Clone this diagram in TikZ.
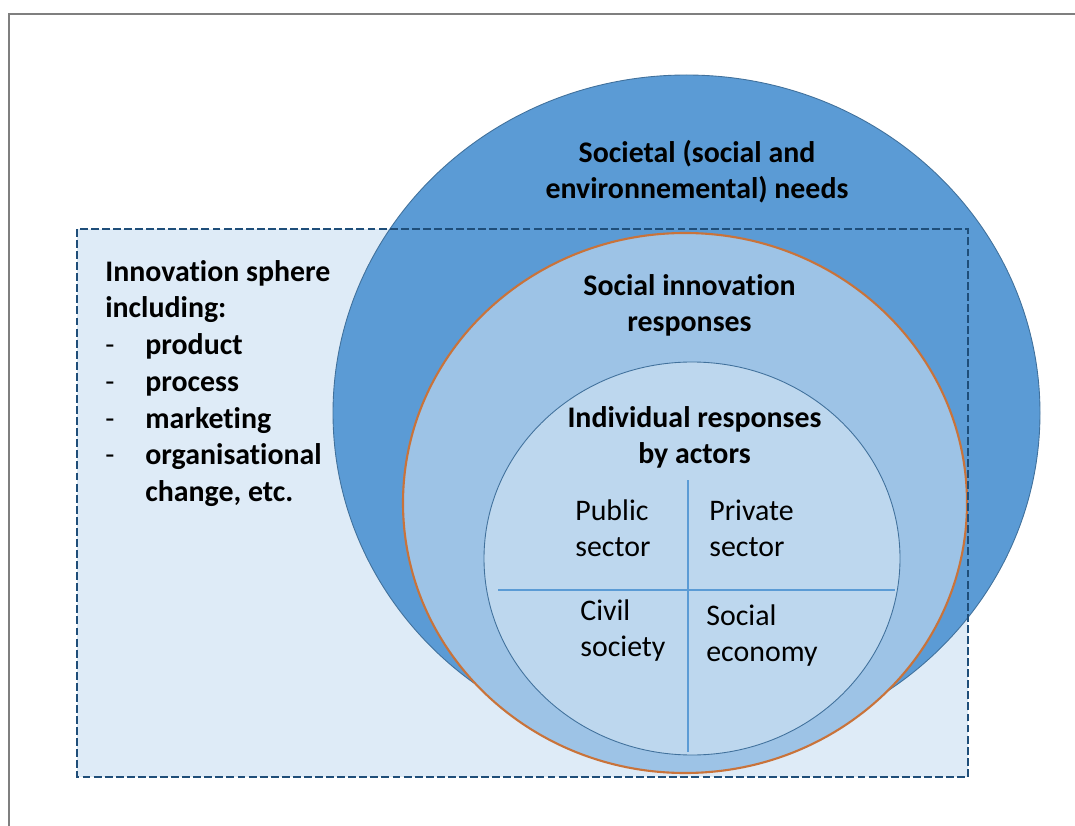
\documentclass[tikz,border=0pt]{standalone}
\usepackage{fontspec}
\setmainfont{Carlito}[Ligatures=NoCommon]
\usepackage{xcolor}

\definecolor{needsblue}{HTML}{5B9BD5}
\definecolor{respblue}{HTML}{9DC3E6}
\definecolor{actorblue}{HTML}{BDD7EE}
\definecolor{spherefill}{HTML}{DEEBF7}
\definecolor{edgeblue}{HTML}{41719C}
\definecolor{dashblue}{HTML}{1F4E79}
\definecolor{rimorange}{HTML}{C9733A}
\definecolor{framegray}{HTML}{7F7F7F}

\newcommand{\itm}{\makebox[0.8cm][l]{\mdseries -}}

\begin{document}
\begin{tikzpicture}[
  frame/.style={draw=framegray, line width=1pt},
  sphere/.style={draw=dashblue, dashed, dash pattern=on 4.5pt off 1.8pt, line width=1.1pt},
  ring/.style={draw=edgeblue, line width=0.5pt},
  rim/.style={draw=rimorange, line width=1.2pt},
  split/.style={draw=needsblue, line width=0.7pt},
  head/.style={font=\fontsize{17}{20.5}\selectfont\bfseries, align=center, inner sep=0pt},
  cell/.style={font=\fontsize{17}{20.5}\selectfont, align=left, inner sep=0pt, anchor=west},
  lst/.style={font=\fontsize{17}{20.9}\selectfont\bfseries, align=left, inner sep=0pt, anchor=west},
]
\useasboundingbox (0,0) rectangle (21.5,-16.52);

%% ---- Page frame (only top and left edges show) ----
\draw[frame] (0.18,-17) |- (22,-0.28);

%% ---- Innovation sphere box (fill first, border last) ----
\fill[spherefill] (1.54,-4.58) rectangle (19.36,-15.54);

%% ---- Nested rings ----
\path[fill=needsblue, ring] (13.73,-8.26) ellipse [x radius=7.07, y radius=6.76];
\path[fill=respblue, rim]   (13.70,-10.06) ellipse [x radius=5.64, y radius=5.40];
\path[fill=actorblue, ring] (13.84,-11.17) ellipse [x radius=4.16, y radius=3.93];

%% ---- Quadrant split of the actors ring ----
\coordinate (vtop) at (13.76,-9.60);
\coordinate (vbot) at (13.76,-15.04);
\coordinate (hl)   at (9.96,-11.80);
\coordinate (hr)   at (17.90,-11.80);
\draw[split] (vtop) -- (vbot);
\draw[split] (hl) -- (hr);

\draw[sphere] (1.54,-4.58) rectangle (19.36,-15.54);

%% ---- Ring headings ----
\node[head] (needs) at (13.94,-3.44) {Societal (social and\\environnemental) needs};
\node[head] (resp)  at (13.79,-6.10) {Social innovation\\responses};
\node[head] (indiv) at (13.89,-8.74) {Individual responses\\by actors};

%% ---- Actor quadrants ----
\node[cell] (pub)  at (11.50,-10.56) {Public\\sector};
\node[cell] (priv) at (14.18,-10.56) {Private\\sector};
\node[cell] (civ)  at (11.60,-12.62) {Civil\\society};
\node[cell] (soc)  at (14.12,-12.72) {Social\\economy};

%% ---- Sphere list ----
\node[lst] (sph) at (2.10,-7.67)
  {Innovation sphere\\including:\\
   \itm product\\
   \itm process\\
   \itm marketing\\
   \itm organisational\\
   \makebox[0.8cm][l]{}change, etc.};
\end{tikzpicture}
\end{document}
